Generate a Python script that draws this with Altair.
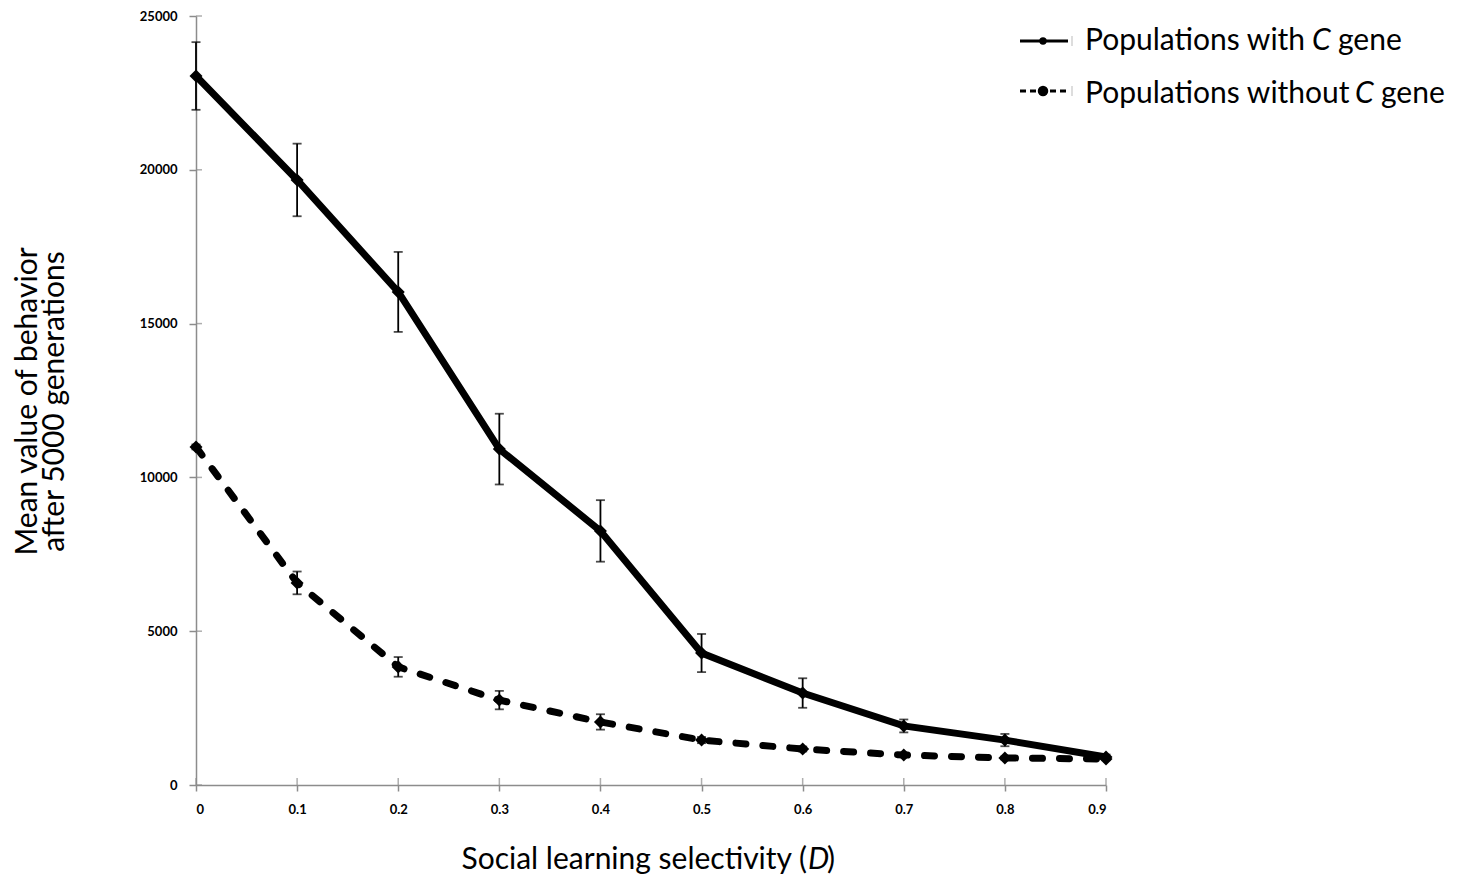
import altair as alt
import pandas as pd

# ---- data ----
selectivity = [0, 0.1, 0.2, 0.3, 0.4, 0.5, 0.6, 0.7, 0.8, 0.9]
with_c_mean = [23050, 19670, 16030, 10920, 8260, 4290, 2990, 1920, 1460, 910]
with_c_err = [1100, 1180, 1300, 1150, 1000, 620, 480, 210, 200, 80]
without_c_mean = [10990, 6570, 3840, 2760, 2050, 1460, 1170, 975, 878, 845]
without_c_err = [80, 370, 320, 300, 250, 100, 80, 60, 50, 40]
series_names = ["Populations with C gene", "Populations without C gene"]
y_ticks = [0, 5000, 10000, 15000, 20000, 25000]
x_ticks = [0, 0.1, 0.2, 0.3, 0.4, 0.5, 0.6, 0.7, 0.8, 0.9]

rows = []
for name, means, errs in [(series_names[0], with_c_mean, with_c_err),
                          (series_names[1], without_c_mean, without_c_err)]:
    for x, m, e in zip(selectivity, means, errs):
        rows.append({"series": name, "D": x, "mean": m, "lo": m - e, "hi": m + e})
df = pd.DataFrame(rows)

FONT = "Lato"
AXIS_GRAY = "#8c8c8c"

x_enc = alt.X("D:Q", scale=alt.Scale(domain=[0, 0.9], nice=False),
              axis=alt.Axis(values=x_ticks, format=".1~f", title=None,
                            labelFontWeight="bold", labelFontSize=13, labelFont=FONT,
                            labelColor="black", domainColor=AXIS_GRAY, tickColor=AXIS_GRAY,
                            domainWidth=1.5, tickWidth=1.5, tickSize=6, labelPadding=12,
                            grid=False))
y_axis = alt.Axis(values=y_ticks, format="d",
                  title=["Mean value of behavior", "after 5000 generations"],
                  titleFont=FONT, titleFontSize=30, titleFontWeight="normal",
                  titleColor="black", titleAngle=270, titleBaseline="middle",
                  titleAlign="center", titleX=-169, titleY=385, titleLineHeight=27,
                  labelFontWeight="bold", labelFontSize=13, labelFont=FONT,
                  labelColor="black", domainColor=AXIS_GRAY, tickColor=AXIS_GRAY,
                  domainWidth=1.5, tickWidth=1.5, tickSize=7, labelPadding=12,
                  grid=False)
y_scale = alt.Scale(domain=[0, 25000], nice=False)

base = alt.Chart(df)

line_with = base.transform_filter(alt.datum.series == series_names[0]).mark_line(
    color="black", strokeWidth=7).encode(
    x=x_enc, y=alt.Y("mean:Q", scale=y_scale, axis=y_axis))
line_without = base.transform_filter(alt.datum.series == series_names[1]).mark_line(
    color="black", strokeWidth=7, strokeDash=[10, 17], strokeCap="round").encode(
    x="D:Q", y="mean:Q")

err_rule = base.mark_rule(color="black", strokeWidth=1.8).encode(
    x="D:Q", y="lo:Q", y2="hi:Q")
cap_lo = base.mark_tick(orient="horizontal", color="black", size=9, thickness=1.8).encode(
    x="D:Q", y="lo:Q")
cap_hi = base.mark_tick(orient="horizontal", color="black", size=9, thickness=1.8).encode(
    x="D:Q", y="hi:Q")
points = base.mark_point(shape="diamond", filled=True, size=170, color="black", opacity=1).encode(
    x="D:Q", y="mean:Q")

# inner halves of the crossing axis ticks
y_inner = alt.Chart(pd.DataFrame({"mean": y_ticks})).mark_tick(
    orient="horizontal", size=6, thickness=1.5, color=AXIS_GRAY).encode(
    y="mean:Q", x=alt.value(3))
x_inner = alt.Chart(pd.DataFrame({"D": x_ticks})).mark_tick(
    orient="vertical", size=7, thickness=1.5, color=AXIS_GRAY).encode(
    x="D:Q", y=alt.value(765.5))

one = pd.DataFrame({"k": [0]})


def txt(s, x, y, align="left", style="normal", size=30):
    return alt.Chart(one).mark_text(text=s, align=align, baseline="middle", font=FONT,
                                    fontSize=size, fontStyle=style, color="black").encode(
        x=alt.value(x), y=alt.value(y))


# x-axis title with italic D
xt_y = 844
x_title = [txt("Social learning selectivity (", 611, xt_y, align="right"),
           txt("D", 612, xt_y, style="italic"),
           txt(")", 631, xt_y)]

# legend
leg = []
for i, (dash, ysym) in enumerate([([1, 0], 25), ([6, 4], 75)]):
    leg.append(alt.Chart(one).mark_rule(color="black", strokeWidth=3, strokeDash=dash).encode(
        x=alt.value(824), x2=alt.value(872), y=alt.value(ysym)))
    leg.append(alt.Chart(one).mark_point(shape="circle", filled=True, size=55 if i == 0 else 110,
                                         color="black", opacity=1).encode(
        x=alt.value(847), y=alt.value(ysym)))
    leg.append(alt.Chart(one).mark_rule(color="#bbbbbb", strokeWidth=1).encode(
        x=alt.value(876), y=alt.value(ysym - 5), y2=alt.value(ysym + 5)))
leg += [txt("Populations with", 889, 25), txt("C", 1116, 25, style="italic"),
        txt("gene", 1142, 25),
        txt("Populations without", 889, 78), txt("C", 1159, 78, style="italic"),
        txt("gene", 1185, 78)]

chart = alt.layer(line_with, line_without, err_rule, cap_lo, cap_hi, points,
                  y_inner, x_inner, *x_title, *leg).properties(
    width=910, height=769, autosize="none",
    padding={"left": 188, "top": 8, "right": 342, "bottom": 92},
    background="white",
).configure_view(stroke=None)

chart.save("out.html", embed_options={"renderer": "svg", "actions": False})
